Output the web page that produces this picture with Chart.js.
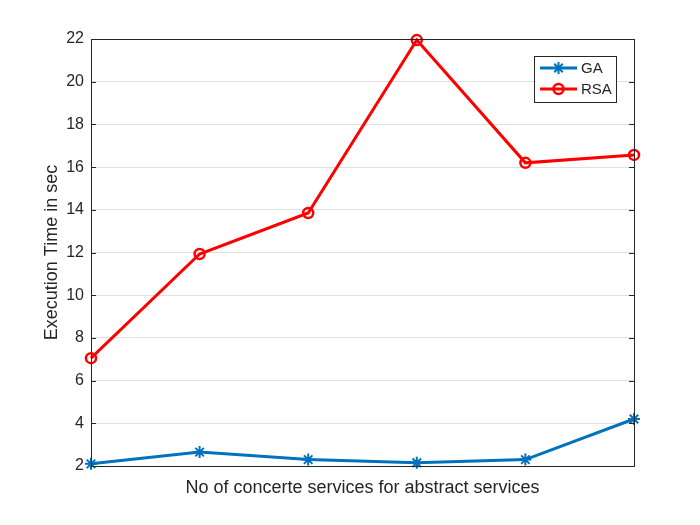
<!DOCTYPE html>
<html>
<head>
<meta charset="utf-8">
<script src="https://cdn.jsdelivr.net/npm/chart.js@4.4.1/dist/chart.umd.min.js"></script>
<style>
  html, body { margin: 0; padding: 0; background: #fff; }
  #wrap { width: 700px; height: 525px; }
</style>
</head>
<body>
<div id="wrap"><canvas id="c" width="700" height="525"></canvas></div>
<script>
const categories = [1, 2, 3, 4, 5, 6];
const gaValues  = [2.1, 2.65, 2.3, 2.15, 2.3, 4.2];
const rsaValues = [7.05, 11.93, 13.85, 21.95, 16.2, 16.57];
const yTicks = [2, 4, 6, 8, 10, 12, 14, 16, 18, 20, 22];
const seriesNames = ['GA', 'RSA'];
const xTitle = 'No of concerte services for abstract services';
const yTitle = 'Execution Time in sec';

const AX = '#262626';
const FONT = 'Liberation Sans, Arial, Helvetica, sans-serif';

const boxPlugin = {
  id: 'boxPlugin',
  afterDraw(chart) {
    const { ctx, chartArea: a, scales } = chart;
    const y = scales.y;
    ctx.save();
    ctx.strokeStyle = AX;
    ctx.lineWidth = 1;
    ctx.beginPath();
    yTicks.forEach(v => {
      const py = Math.round(y.getPixelForValue(v)) + 0.5;
      ctx.moveTo(a.left, py); ctx.lineTo(a.left + 5, py);
      ctx.moveTo(a.right, py); ctx.lineTo(a.right - 5, py);
    });
    ctx.stroke();
    ctx.strokeRect(Math.round(a.left) + 0.5, Math.round(a.top) + 0.5,
                   Math.round(a.right - a.left), Math.round(a.bottom - a.top));
    // legend
    const lx = 534.5, ly = 56.5, lw = 82, lh = 46;
    ctx.fillStyle = '#fff';
    ctx.fillRect(lx, ly, lw, lh);
    ctx.strokeStyle = AX;
    ctx.lineWidth = 1;
    ctx.strokeRect(lx, ly, lw, lh);
    chart.data.datasets.forEach((ds, i) => {
      const cy = 68 + i * 21;
      ctx.strokeStyle = ds.borderColor;
      ctx.lineWidth = ds.borderWidth;
      ctx.beginPath();
      ctx.moveTo(540, cy); ctx.lineTo(577, cy);
      ctx.stroke();
      ctx.fillStyle = ds.pointBackgroundColor;
      ctx.strokeStyle = ds.pointBorderColor;
      ctx.lineWidth = ds.pointBorderWidth;
      Chart.helpers.drawPoint(ctx, {
        pointStyle: ds.pointStyle, radius: ds.pointRadius, rotation: 0,
        borderWidth: ds.pointBorderWidth
      }, 558.5, cy);
      ctx.fillStyle = AX;
      ctx.font = '15px ' + FONT;
      ctx.textBaseline = 'middle';
      ctx.textAlign = 'left';
      ctx.fillText(ds.label, 581, cy + 1);
    });
    ctx.restore();
  }
};

new Chart(document.getElementById('c'), {
  type: 'line',
  data: {
    labels: categories,
    datasets: [
      {
        label: seriesNames[0],
        data: categories.map((x, i) => ({ x, y: gaValues[i] })),
        borderColor: '#0072BD',
        backgroundColor: '#0072BD',
        pointBackgroundColor: '#0072BD',
        pointBorderColor: '#0072BD',
        borderWidth: 3,
        pointStyle: 'star',
        pointRadius: 6,
        pointBorderWidth: 2,
        pointHoverRadius: 6,
        tension: 0,
        clip: false
      },
      {
        label: seriesNames[1],
        data: categories.map((x, i) => ({ x, y: rsaValues[i] })),
        borderColor: '#FF0000',
        backgroundColor: '#FF0000',
        pointBackgroundColor: 'rgba(0,0,0,0)',
        pointBorderColor: '#FF0000',
        borderWidth: 3,
        pointStyle: 'circle',
        pointRadius: 5,
        pointBorderWidth: 2.5,
        pointHoverRadius: 5,
        tension: 0,
        clip: false
      }
    ]
  },
  options: {
    responsive: false,
    animation: false,
    devicePixelRatio: 1,
    layout: { padding: { left: 0, right: 66, top: 39, bottom: 0 } },
    plugins: { legend: { display: false }, tooltip: { enabled: false } },
    scales: {
      x: {
        type: 'linear',
        min: 1, max: 6,
        grid: { display: false, drawTicks: false },
        border: { display: true, color: AX, width: 1 },
        ticks: { display: false },
        afterFit(s) { s.height = 59; },
        title: {
          display: true, text: xTitle, color: AX,
          font: { family: FONT, size: 18 },
          padding: { top: 0, bottom: 26 }
        }
      },
      y: {
        type: 'linear',
        min: 2, max: 22,
        afterBuildTicks(s) { s.ticks = yTicks.map(v => ({ value: v })); },
        grid: { color: '#dfdfdf', drawTicks: false, lineWidth: 1 },
        border: { display: true, color: AX, width: 1 },
        ticks: {
          color: AX, padding: 7,
          font: { family: FONT, size: 16 }
        },
        afterFit(s) { s.width = 91; },
        title: {
          display: true, text: yTitle, color: AX,
          font: { family: FONT, size: 18 },
          padding: { top: 41, bottom: 0 }
        }
      }
    }
  },
  plugins: [boxPlugin]
});
</script>
</body>
</html>
